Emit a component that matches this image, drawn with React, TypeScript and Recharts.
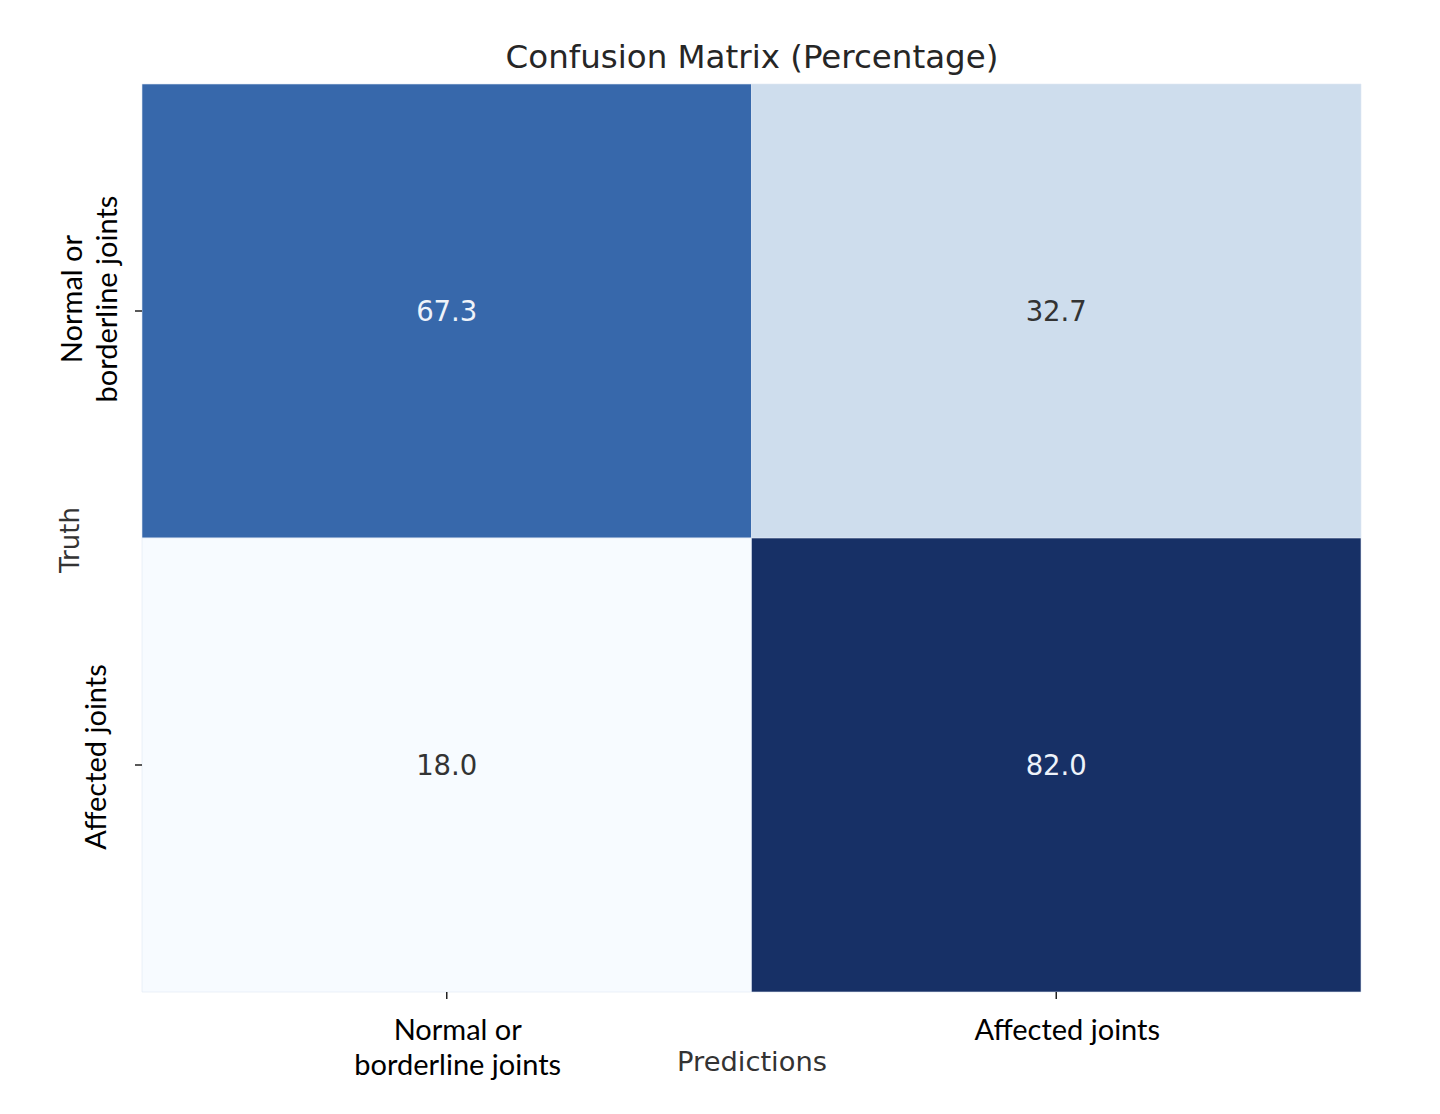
import React from "react";
import {
  ScatterChart,
  Scatter,
  XAxis,
  YAxis,
  ReferenceArea,
} from "recharts";

// rows = truth, columns = predictions
const TRUTH_LABELS = [["Normal or", "borderline joints"], ["Affected joints"]];
const PRED_LABELS = [["Normal or", "borderline joints"], ["Affected joints"]];
const ROW_0 = [67.3, 32.7];
const ROW_1 = [18.0, 82.0];
const ROWS = [ROW_0, ROW_1];

// seaborn "Blues" colours as they appear in the picture
const CELL_FILL: Record<string, string> = {
  "0-0": "#3768ab",
  "0-1": "#cedded",
  "1-0": "#f7fbff",
  "1-1": "#173066",
};
const CELL_TEXT: Record<string, string> = {
  "0-0": "#eef3fa",
  "0-1": "#333333",
  "1-0": "#333333",
  "1-1": "#eef3fa",
};

const cells = ROWS.flatMap((row, r) =>
  row.map((v, c) => ({ r, c, value: v, x: c + 0.5, y: r + 0.5 }))
);

const DEJAVU = "'DejaVu Sans', sans-serif";
const TICK_FONT = "Lato, 'Open Sans', sans-serif";

function XTick(props: any) {
  const { x, y, payload } = props;
  const idx = Math.floor(payload.value);
  const lines = PRED_LABELS[idx] || [];
  return (
    <g>
      {lines.map((t, i) => (
        <text
          key={i}
          x={x + 11}
          y={y + 39 + i * 35}
          textAnchor="middle"
          fontFamily={TICK_FONT}
          fontSize={29}
          fill="#000"
        >
          {t}
        </text>
      ))}
    </g>
  );
}

function YTick(props: any) {
  const { y, payload } = props;
  const idx = Math.floor(payload.value);
  const lines = TRUTH_LABELS[idx] || [];
  const first = lines.length > 1 ? 74 : 98;
  const cy = y + (lines.length > 1 ? -12 : -8);
  return (
    <g>
      {lines.map((t, i) => {
        const bx = first + i * 35;
        return (
          <text
            key={i}
            x={bx}
            y={cy}
            transform={`rotate(-90, ${bx}, ${cy})`}
            textAnchor="middle"
            fontFamily={TICK_FONT}
            fontSize={29}
            fill="#000"
          >
            {t}
          </text>
        );
      })}
    </g>
  );
}

export default function App() {
  return (
    <div style={{ width: 1424, height: 1098, background: "#fff" }}>
      <ScatterChart
        width={1424}
        height={1098}
        margin={{ top: 76, right: 71, bottom: 0, left: 0 }}
      >
        <XAxis
          type="number"
          dataKey="x"
          domain={[0, 2]}
          ticks={[0.5, 1.5]}
          height={114}
          axisLine={false}
          tickSize={7}
          tickLine={{ stroke: "#222", strokeWidth: 1.5 }}
          tick={<XTick />}
        />
        <YAxis
          type="number"
          dataKey="y"
          domain={[0, 2]}
          reversed
          ticks={[0.5, 1.5]}
          width={134}
          axisLine={false}
          tickSize={7}
          tickLine={{ stroke: "#222", strokeWidth: 1.5 }}
          tick={<YTick />}
        />
        {cells.map((d) => (
          <ReferenceArea
            key={`${d.r}-${d.c}`}
            x1={d.c}
            x2={d.c + 1}
            y1={d.r}
            y2={d.r + 1}
            fill={CELL_FILL[`${d.r}-${d.c}`]}
            fillOpacity={1}
            stroke="#dfe8f4"
            strokeOpacity={0.6}
            strokeWidth={1}
            label={{
              value: d.value.toFixed(1),
              position: "center",
              fill: CELL_TEXT[`${d.r}-${d.c}`],
              fontSize: 27.5,
              fontFamily: DEJAVU,
            }}
          />
        ))}
        <Scatter
          data={cells}
          isAnimationActive={false}
          shape={() => <g />}
        />
        <text
          x={744}
          y={60}
          textAnchor="middle"
          fontFamily={DEJAVU}
          fontSize={32.5}
          fill="#262626"
        >
          Confusion Matrix (Percentage)
        </text>
        <text
          x={744}
          y={1063}
          textAnchor="middle"
          fontFamily={DEJAVU}
          fontSize={27.3}
          fill="#333"
        >
          Predictions
        </text>
        <text
          x={71}
          y={532}
          transform="rotate(-90, 71, 532)"
          textAnchor="middle"
          fontFamily={DEJAVU}
          fontSize={26}
          fill="#333"
        >
          Truth
        </text>
      </ScatterChart>
    </div>
  );
}
